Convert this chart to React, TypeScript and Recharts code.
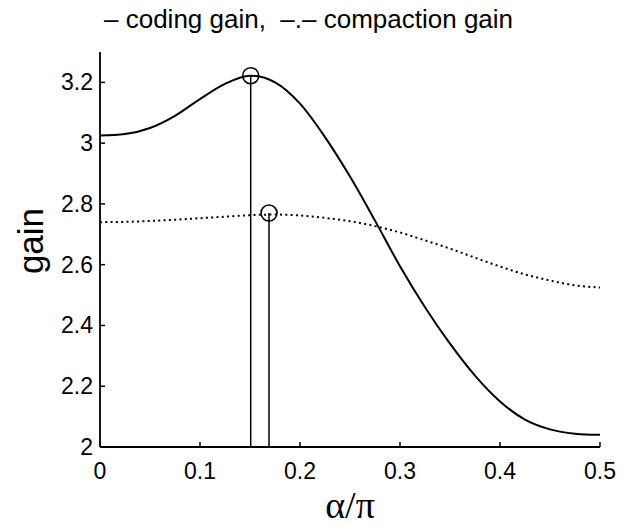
import React from 'react';
import { ComposedChart, Line, XAxis, YAxis, Scatter, Label } from 'recharts';

// sample points along alpha/pi
const alphaOverPi = [0, 0.025, 0.05, 0.075, 0.1, 0.125, 0.15, 0.175, 0.2, 0.225, 0.25, 0.275, 0.3, 0.325, 0.35, 0.375, 0.4, 0.425, 0.45, 0.475, 0.5];
const codingGain = [3.025, 3.03, 3.05, 3.09, 3.145, 3.195, 3.222, 3.2, 3.13, 3.02, 2.89, 2.745, 2.595, 2.46, 2.34, 2.235, 2.15, 2.09, 2.058, 2.044, 2.04];
const compactionGain = [2.74, 2.741, 2.744, 2.748, 2.753, 2.758, 2.763, 2.765, 2.762, 2.754, 2.743, 2.727, 2.706, 2.68, 2.653, 2.623, 2.594, 2.568, 2.548, 2.532, 2.525];

const xTicks = [0, 0.1, 0.2, 0.3, 0.4, 0.5];
const yTicks = [2, 2.2, 2.4, 2.6, 2.8, 3, 3.2];

// maxima marked with a circle and a stem down to the x axis
const codingPeak = [{ x: 0.1507, y: 3.222 }];
const compactionPeak = [{ x: 0.169, y: 2.77 }];
const yFloor = 2;

const data = alphaOverPi.map((x, i) => ({ x, coding: codingGain[i], compaction: compactionGain[i] }));
const codingStem = [{ x: codingPeak[0].x, stem: yFloor }, { x: codingPeak[0].x, stem: codingPeak[0].y }];
const compactionStem = [{ x: compactionPeak[0].x, stem: yFloor }, { x: compactionPeak[0].x, stem: compactionPeak[0].y }];

const FONT = '"Liberation Sans", Arial, Helvetica, sans-serif';

const YTick = (props: any) => {
  const { x, y, payload } = props;
  return (
    <g>
      <line x1={x} x2={x + 5} y1={y} y2={y} stroke="#000" strokeWidth={1.5} />
      <text x={x - 7} y={y} textAnchor="end" dominantBaseline="central" fontFamily={FONT} fontSize={23} fill="#000">
        {String(payload.value)}
      </text>
    </g>
  );
};

const XTick = (props: any) => {
  const { x, y, payload } = props;
  return (
    <g>
      <line x1={x} x2={x} y1={y} y2={y - 5} stroke="#000" strokeWidth={1.5} />
      <text x={x} y={y + 24} textAnchor="middle" dominantBaseline="central" fontFamily={FONT} fontSize={23} fill="#000">
        {String(payload.value)}
      </text>
    </g>
  );
};

const PeakCircle = (props: any) => (
  <circle cx={props.cx} cy={props.cy} r={8} fill="none" stroke="#000" strokeWidth={1.6} />
);

export default function App() {
  return (
    <div style={{ position: 'absolute', left: 0, top: 0, width: 621, height: 526, background: '#fff' }}>
      <ComposedChart width={621} height={526} data={data} margin={{ top: 52, right: 21, bottom: 0, left: 0 }}>
        <XAxis
          type="number"
          dataKey="x"
          domain={[0, 0.5]}
          ticks={xTicks}
          height={79}
          tickSize={0}
          tickMargin={0}
          tickLine={false}
          axisLine={{ stroke: '#000', strokeWidth: 1.8 }}
          tick={<XTick />}
        >
          <Label
            content={() => (
              <text x={350} y={518} textAnchor="middle" fontFamily='"Liberation Serif", "DejaVu Serif", serif' fontSize={38} fill="#000">
                α/π
              </text>
            )}
          />
        </XAxis>
        <YAxis
          type="number"
          domain={[2, 3.3]}
          ticks={yTicks}
          width={100}
          tickSize={0}
          tickMargin={0}
          tickLine={false}
          axisLine={{ stroke: '#000', strokeWidth: 1.8 }}
          tick={<YTick />}
        >
          <Label
            content={() => (
              <text x={43} y={241} transform="rotate(-90 43 241)" textAnchor="middle" fontFamily={FONT} fontSize={35} fill="#000">
                gain
              </text>
            )}
          />
          <Label
            content={() => (
              <text x={104} y={28} fontFamily={FONT} fontSize={26} fill="#000" xmlSpace="preserve" style={{ whiteSpace: 'pre' }}>
                {'– coding gain,  –.– compaction gain'}
              </text>
            )}
          />
        </YAxis>
        <Line data={codingStem} dataKey="stem" stroke="#000" strokeWidth={1.5} dot={false} isAnimationActive={false} />
        <Line data={compactionStem} dataKey="stem" stroke="#000" strokeWidth={1.5} dot={false} isAnimationActive={false} />
        <Line type="monotone" dataKey="compaction" stroke="#000" strokeWidth={2} strokeDasharray="2 3.3" dot={false} isAnimationActive={false} />
        <Line type="monotone" dataKey="coding" stroke="#000" strokeWidth={2} dot={false} isAnimationActive={false} />
        <Scatter data={codingPeak} dataKey="y" shape={<PeakCircle />} isAnimationActive={false} />
        <Scatter data={compactionPeak} dataKey="y" shape={<PeakCircle />} isAnimationActive={false} />
      </ComposedChart>
    </div>
  );
}
